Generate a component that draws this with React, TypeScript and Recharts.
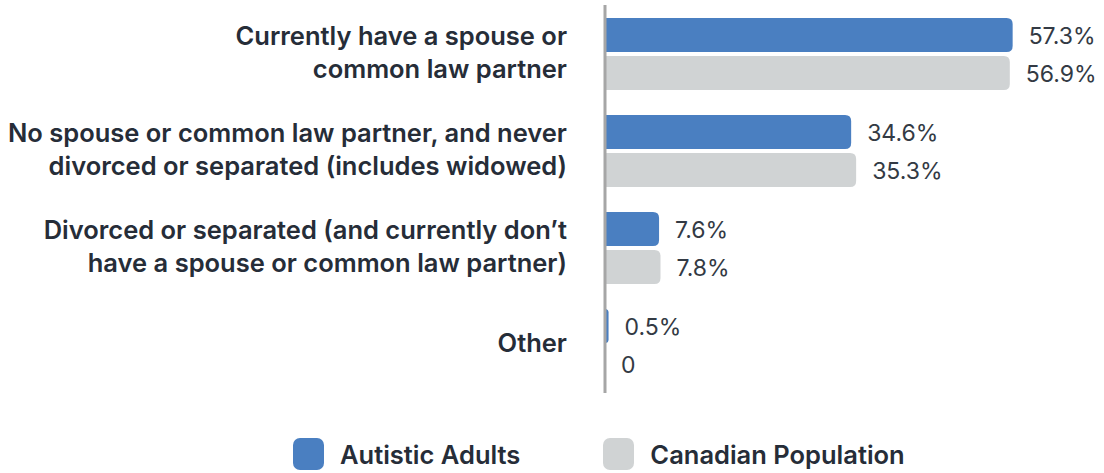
import React from 'react';
import { BarChart, Bar, XAxis, YAxis } from 'recharts';

const categories = [
  'Currently have a spouse or\ncommon law partner',
  'No spouse or common law partner, and never\ndivorced or separated (includes widowed)',
  'Divorced or separated (and currently don’t\nhave a spouse or common law partner)',
  'Other',
];
const autisticAdults = [57.3, 34.6, 7.6, 0.5];
const canadianPopulation = [56.9, 35.3, 7.8, 0];

const BLUE = '#4a7fc1';
const GRAY = '#d0d3d4';
const TEXT = '#262d38';
const FONT = 'Inter, "Noto Sans", sans-serif';

const data = categories.map((name, i) => ({
  name,
  autistic: autisticAdults[i],
  canadian: canadianPopulation[i],
}));

const CategoryTick = (props: any) => {
  const { x, y, payload } = props;
  const lines: string[] = String(payload.value).split('\n');
  const lineH = 33;
  const startY = y - 2 - ((lines.length - 1) * lineH) / 2;
  return (
    <text textAnchor="end" fontFamily={FONT} fontWeight={600} fontSize={25.5} fill={TEXT}>
      {lines.map((l, i) => (
        <tspan key={i} x={x} y={startY + i * lineH} dominantBaseline="central">
          {l}
        </tspan>
      ))}
    </text>
  );
};

// draws the bar and its value label, also for zero-width bars
const BarWithLabel = (props: any) => {
  const { x, y, width, height, fill, value } = props;
  const v = Number(Array.isArray(value) ? value[1] - value[0] : value);
  const w = Math.max(0, width || 0);
  const r = Math.min(6, w, height / 2);
  const path =
    w > 0
      ? `M${x},${y} L${x + w - r},${y} Q${x + w},${y} ${x + w},${y + r} L${x + w},${y + height - r} Q${x + w},${y + height} ${x + w - r},${y + height} L${x},${y + height} Z`
      : '';
  return (
    <g>
      {w > 0 && <path d={path} fill={fill} />}
      <text
        x={x + w + 16}
        y={y + height / 2 + 1}
        dominantBaseline="central"
        fontFamily={FONT}
        fontSize={23}
        fill="#333a44"
      >
        {v === 0 ? '0' : `${v}%`}
      </text>
    </g>
  );
};

const LegendItem = ({ color, label }: { color: string; label: string }) => (
  <div style={{ display: 'flex', alignItems: 'center' }}>
    <div style={{ width: 31, height: 32, borderRadius: 7, background: color, marginRight: 16 }} />
    <span style={{ fontFamily: FONT, fontWeight: 600, fontSize: 25.5, color: TEXT }}>{label}</span>
  </div>
);

const App: React.FC = () => {
  return (
    <div style={{ position: 'absolute', left: 0, top: 0, width: 1104, height: 473, background: '#fff' }}>
      <BarChart
        width={1104}
        height={473}
        layout="vertical"
        data={data}
        margin={{ top: 5, right: 1, left: 0, bottom: 80 }}
        barSize={34}
        barGap={4}
      >
        <XAxis type="number" domain={[0, 70]} hide />
        <YAxis
          type="category"
          dataKey="name"
          width={605}
          tickLine={false}
          tickSize={0}
          tickMargin={38}
          axisLine={{ stroke: '#a6a6a6', strokeWidth: 3 }}
          tick={<CategoryTick />}
          interval={0}
        />
        <Bar dataKey="autistic" fill={BLUE} isAnimationActive={false} shape={<BarWithLabel />} />
        <Bar dataKey="canadian" fill={GRAY} isAnimationActive={false} shape={<BarWithLabel />} />
      </BarChart>
      <div style={{ position: 'absolute', left: 293, top: 438, display: 'flex', gap: 83 }}>
        <LegendItem color={BLUE} label="Autistic Adults" />
        <LegendItem color={GRAY} label="Canadian Population" />
      </div>
    </div>
  );
};

export default App;
